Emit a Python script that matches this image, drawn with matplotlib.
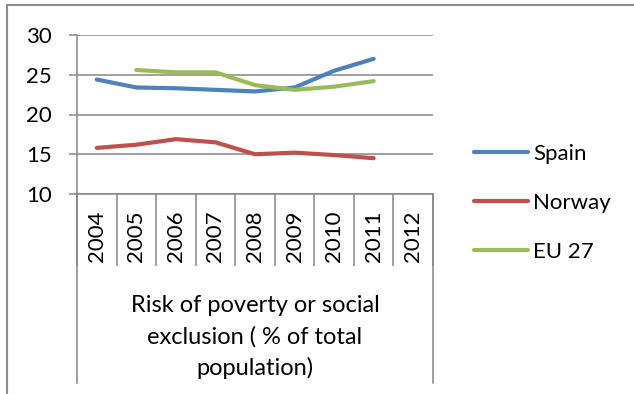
import matplotlib.pyplot as plt
from matplotlib.lines import Line2D
from matplotlib.patches import Rectangle
import matplotlib.transforms as mtransforms

plt.rcParams['font.family'] = ['Lato', 'DejaVu Sans']

years = ['2004', '2005', '2006', '2007', '2008', '2009', '2010', '2011', '2012']
spain = [24.4, 23.4, 23.3, 23.1, 22.9, 23.4, 25.5, 27.0, None]
norway = [15.8, 16.2, 16.9, 16.5, 15.0, 15.2, 14.9, 14.5, None]
eu27 = [None, 25.6, 25.3, 25.3, 23.7, 23.1, 23.5, 24.2, None]
category_label = 'Risk of poverty or social\nexclusion ( % of total\npopulation)'

series = [('Spain', spain, '#4F81BD'),
          ('Norway', norway, '#C0504D'),
          ('EU 27', eu27, '#9BBB59')]

grid_col = '#868686'
W, H = 634, 394

fig = plt.figure(figsize=(W / 100, H / 100), dpi=100)
ax = fig.add_axes([77 / W, (H - 194) / H, 356 / W, 159 / H])

x = list(range(len(years)))
for name, vals, col in series:
    pts = [(i, v) for i, v in zip(x, vals) if v is not None]
    ax.plot([p[0] for p in pts], [p[1] for p in pts], color=col, lw=3.0,
            solid_capstyle='round', solid_joinstyle='round', label=name)

ax.set_xlim(-0.5, len(years) - 0.5)
ax.set_ylim(10, 30)
ax.set_yticks([10, 15, 20, 25, 30])
ax.grid(axis='y', color=grid_col, lw=1.1)
ax.set_axisbelow(True)

for side in ['top', 'right']:
    ax.spines[side].set_visible(False)
for side in ['left', 'bottom']:
    ax.spines[side].set_color(grid_col)
    ax.spines[side].set_linewidth(1.1)

ax.tick_params(axis='y', length=6, width=1.1, color=grid_col, pad=12,
               labelsize=16)

# year labels sit between boundary ticks that hang below the axis
ax.set_xticks(x)
ax.set_xticklabels(years, rotation=90, fontsize=16)
ax.tick_params(axis='x', which='major', length=0, pad=12)
ax.set_xticks([i - 0.5 for i in range(len(years) + 1)], minor=True)
ax.tick_params(axis='x', which='minor', length=52, width=1.1, color=grid_col)

# outer edges of the category block extend down past the label
trans = mtransforms.blended_transform_factory(ax.transData, ax.transAxes)
for xe in (-0.5, len(years) - 0.5):
    ax.add_line(Line2D([xe, xe], [0, -1.19], transform=trans, color=grid_col,
                       lw=1.1, clip_on=False))

ax.text(0.5, -0.9, category_label, transform=ax.transAxes, ha='center',
        va='center', fontsize=17, linespacing=1.56)

leg = fig.legend(loc='center left', bbox_to_anchor=(474 / W, (H - 203) / H),
                 frameon=False, fontsize=16, handlelength=2.45,
                 handletextpad=0.2, labelspacing=1.3, borderpad=0,
                 borderaxespad=0)

# chart border running off the top, right and bottom edges
fig.patches.append(Rectangle((7 / W, -0.1), 2.0, (H - 5) / H + 0.1,
                             transform=fig.transFigure, fill=False,
                             edgecolor='#8C8C8C', lw=1.5))

fig.savefig('out.png', dpi=100, facecolor='white')
